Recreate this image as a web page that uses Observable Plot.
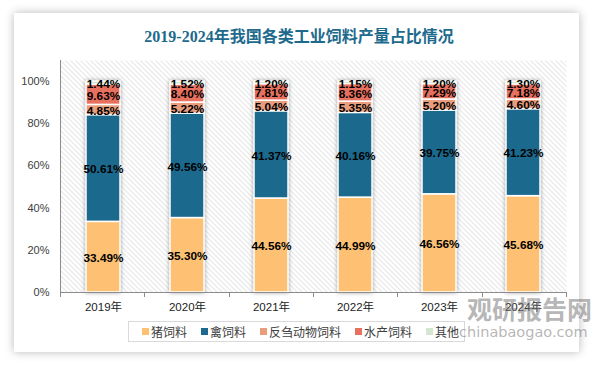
<!DOCTYPE html>
<html>
<head>
<meta charset="utf-8">
<script src="https://cdn.jsdelivr.net/npm/d3@7"></script>
<script src="https://cdn.jsdelivr.net/npm/@observablehq/plot@0.6"></script>
<style>
  html, body { margin: 0; padding: 0; background: #ffffff; }
  #page { position: relative; width: 594px; height: 366px; overflow: hidden; font-family: "Liberation Sans", "Noto Sans CJK SC", sans-serif; }
  #card { position: absolute; left: 14px; top: 13px; width: 565px; height: 339px; background: #fff; box-shadow: 0 0 9px rgba(0,0,0,0.28); }
  #title { position: absolute; left: 0; top: 27px; width: 598px; text-align: center; font-size: 16px; font-weight: bold; line-height: 20px; color: #1d6a8d; font-family: "Liberation Serif", "Noto Sans CJK SC", serif; }
  #chart { position: absolute; left: 0; top: 0; }
  #legend { position: absolute; left: 128px; top: 321px; width: 337px; height: 21px; border: 1px solid #d9d9d9; box-sizing: border-box; display: flex; align-items: center; padding-left: 13px; gap: 14px; font-size: 12px; color: #404040; font-family: "Noto Sans CJK SC", sans-serif; }
  .item { display: flex; align-items: center; gap: 2px; white-space: nowrap; }
  .sw { width: 7px; height: 7px; display: inline-block; }
  #wm1 { position: absolute; left: 467px; top: 293px; font-size: 25px; font-weight: bold; color: rgba(120,120,120,0.55); font-family: "Noto Sans CJK SC", sans-serif; line-height: 30px; pointer-events: none; }
  #wm2 { position: absolute; left: 459px; top: 324px; font-size: 14.5px; color: rgba(120,120,120,0.55); font-family: "DejaVu Sans", sans-serif; line-height: 16px; pointer-events: none; }
</style>
</head>
<body>
<div id="page">
  <div id="card"></div>
  <div id="title">2019-2024年我国各类工业饲料产量占比情况</div>
  <div id="chart"></div>
  <div id="legend"></div>
  <div id="wm1">观研报告网</div>
  <div id="wm2">chinabaogao.com</div>
</div>
<script>
const years = ["2019年", "2020年", "2021年", "2022年", "2023年", "2024年"];
const types = ["猪饲料", "禽饲料", "反刍动物饲料", "水产饲料", "其他"];
const pig      = [33.49, 35.30, 44.56, 44.99, 46.56, 45.68];
const poultry  = [50.61, 49.56, 41.37, 40.16, 39.75, 41.23];
const ruminant = [4.85, 5.22, 5.04, 5.35, 5.20, 4.60];
const aqua     = [9.63, 8.40, 7.81, 8.36, 7.29, 7.18];
const other    = [1.44, 1.52, 1.20, 1.15, 1.20, 1.30];
const yTicks   = [0, 20, 40, 60, 80, 100];
const colors   = ["#fec174", "#1b6a8e", "#e99d7c", "#e8705e", "#d5e6d0"];

const series = [pig, poultry, ruminant, aqua, other];
const data = years.flatMap((yr, i) => types.map((t, j) => ({year: yr, type: t, value: series[j][i]})));

const plot = Plot.plot({
  width: 594,
  height: 318,
  marginTop: 60,
  marginBottom: 26,
  marginLeft: 60,
  marginRight: 28,
  style: {background: "transparent", fontFamily: "Liberation Sans, Noto Sans CJK SC, sans-serif", fontSize: "11px", color: "#404040"},
  x: {domain: years, paddingInner: 0.6, paddingOuter: 0.3, label: null},
  y: {domain: [0, 110], label: null},
  color: {domain: types, range: colors},
  marks: [
    Plot.frame({fill: "url(#hatch)", stroke: null}),
    Plot.barY(data, {x: "year", y: "value", fill: "type", stroke: "white", strokeWidth: 1.5}),
    Plot.text(data, Plot.stackY({x: "year", y: "value", z: "type", text: d => d.value.toFixed(2) + "%", fill: "black", fontSize: 11.8, fontWeight: "bold", dy: 1})),
    Plot.axisY(yTicks, {tickSize: 0, tickPadding: 11, tickFormat: d => d + "%", fill: "#404040", fontSize: 11}),
    Plot.axisX({tickSize: 0, tickPadding: 10, fill: "#222", fontSize: 11.5, fontFamily: "Liberation Sans, Noto Sans CJK SC, sans-serif"}),
    Plot.ruleY([0], {stroke: "#8c8c8c", strokeWidth: 1})
  ]
});

// hatch pattern for plot area
const svg = d3.select(plot);
const defs = svg.insert("defs", ":first-child");
const pat = defs.append("pattern").attr("id", "hatch").attr("patternUnits", "userSpaceOnUse").attr("width", 5).attr("height", 5);
pat.append("rect").attr("width", 5).attr("height", 5).attr("fill", "#ffffff");
pat.append("path").attr("d", "M-1,-1 L6,6 M-1,4 L1,6 M4,-1 L6,1").attr("stroke", "#d4d4d4").attr("stroke-width", 0.9);

// bar shadow
svg.selectAll("g[aria-label='bar']").style("filter", "drop-shadow(0px 0px 2px rgba(0,0,0,0.35))");

// axis lines and band-boundary ticks from the plot's scales
const xs = plot.scale("x"), ys = plot.scale("y");
const x0 = xs.range[0], x1 = xs.range[1];
const step = (x1 - x0) / years.length;
const yb = ys.apply(0), yt = ys.range[1];
const g = svg.append("g").attr("stroke", "#8c8c8c").attr("stroke-width", 1);
g.append("line").attr("x1", x0 + 0.5).attr("x2", x0 + 0.5).attr("y1", yt).attr("y2", yb);
for (let i = 0; i <= years.length; i++) {
  const xx = Math.round(x0 + i * step) + 0.5;
  g.append("line").attr("x1", xx).attr("x2", xx).attr("y1", yb).attr("y2", yb + 5);
}

document.getElementById("chart").appendChild(plot);

// legend
const leg = document.getElementById("legend");
types.forEach((t, i) => {
  const it = document.createElement("div");
  it.className = "item";
  const sw = document.createElement("span");
  sw.className = "sw";
  sw.style.background = colors[i];
  const lb = document.createElement("span");
  lb.textContent = t;
  it.appendChild(sw); it.appendChild(lb);
  leg.appendChild(it);
});
</script>
</body>
</html>
